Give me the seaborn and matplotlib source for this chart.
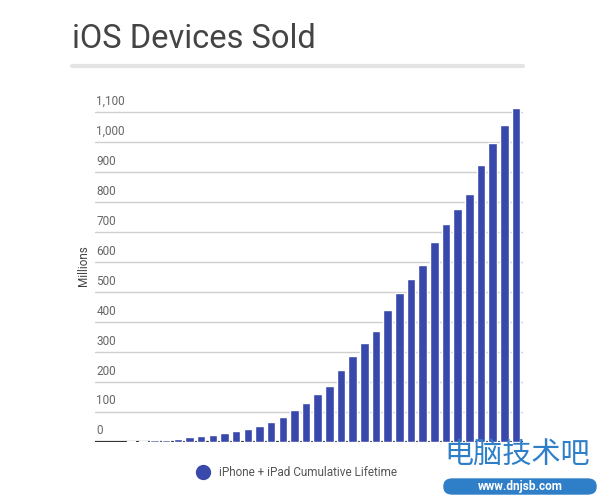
import numpy as np
import pandas as pd
import matplotlib
matplotlib.use("Agg")
import matplotlib.pyplot as plt
from matplotlib.lines import Line2D
from matplotlib.patches import FancyBboxPatch
import seaborn as sns

# Cumulative iPhone + iPad units (millions), one bar per quarter
quarters = [
    "Q3'07", "Q4'07",
    "Q1'08", "Q2'08", "Q3'08", "Q4'08",
    "Q1'09", "Q2'09", "Q3'09", "Q4'09",
    "Q1'10", "Q2'10", "Q3'10", "Q4'10",
    "Q1'11", "Q2'11", "Q3'11", "Q4'11",
    "Q1'12", "Q2'12", "Q3'12", "Q4'12",
    "Q1'13", "Q2'13", "Q3'13", "Q4'13",
    "Q1'14", "Q2'14", "Q3'14", "Q4'14",
    "Q1'15", "Q2'15", "Q3'15", "Q4'15",
]
cumulative = [
    0.5, 2.5,
    5, 6, 7, 14,
    18, 22, 28, 34,
    43, 52, 64, 83,
    106, 129, 159, 187,
    240, 287, 330, 370,
    439, 497, 542, 591,
    667, 727, 776, 826,
    923, 998, 1057, 1115,
]
y_ticks = [0, 100, 200, 300, 400, 500, 600, 700, 800, 900, 1000, 1100]
y_tick_labels = ["0", "100", "200", "300", "400", "500", "600",
                 "700", "800", "900", "1,000", "1,100"]
series_name = "iPhone + iPad Cumulative Lifetime"

df = pd.DataFrame({"quarter": quarters, "units": cumulative})

sns.set_theme(style="white")
plt.rcParams["font.family"] = ["Roboto", "DejaVu Sans"]

bar_color = "#3949AB"

fig = plt.figure(figsize=(6.0, 4.95), dpi=100)
ax = fig.add_axes([95 / 600, 53 / 495, 428 / 600, 338.7 / 495])

sns.barplot(data=df, x="quarter", y="units", color=bar_color,
            saturation=1, width=0.73, ax=ax, zorder=2)

ax.set_xlim(-3.1, 33.6)
ax.set_ylim(-1.5, 1130)

# gridlines + labels sitting just above each line
for v, lab in zip(y_ticks, y_tick_labels):
    if v == 0:
        ax.axhline(v, color="#333333", lw=1.6, zorder=1)
    else:
        ax.axhline(v, color="#cfcfcf", lw=1.0, zorder=0)
    ax.annotate(lab, xy=(0, v), xycoords=("axes fraction", "data"),
                xytext=(1, 3), textcoords="offset points",
                ha="left", va="bottom", fontsize=8.5, color="#666666")

ax.set_xticks([])
ax.set_yticks([])
ax.set_xlabel("")
ax.set_ylabel("Millions", fontsize=8.5, color="#444444")
ax.yaxis.set_label_coords(-0.012, 0.52)
sns.despine(ax=ax, left=True, bottom=True)

# title and rule
fig.text(72 / 600, 1 - 39 / 495, "iOS Devices Sold", fontsize=23.5,
         color="#444444", ha="left", va="center")
fig.add_artist(Line2D([72 / 600, 523 / 600], [1 - 66 / 495, 1 - 66 / 495],
                      color="#e4e4e4", lw=3, transform=fig.transFigure))

# legend
handle = Line2D([], [], marker="o", color=bar_color, linestyle="none",
                markersize=10)
fig.legend([handle], [series_name], loc="center left",
           bbox_to_anchor=(191 / 600, 1 - 473 / 495), frameon=False,
           fontsize=8.5, labelcolor="#555555", handletextpad=0.4,
           borderaxespad=0, borderpad=0)

# site watermark
wm_blue = "#2f7fc8"
fig.text(444 / 600, 1 - 456 / 495, "电脑技术吧", fontsize=21, color=wm_blue,
         ha="left", va="center", family=["Noto Sans CJK SC", "DejaVu Sans"])
fig.add_artist(FancyBboxPatch((444 / 600, 1 - 494 / 495), 152 / 600, 15 / 495,
                              boxstyle="round,pad=0,rounding_size=0.014",
                              transform=fig.transFigure, color=wm_blue))
fig.text(520 / 600, 1 - 486.5 / 495, "www.dnjsb.com", fontsize=8.5,
         fontweight="bold", color="white", ha="center", va="center")

fig.savefig("out.png", dpi=100)
